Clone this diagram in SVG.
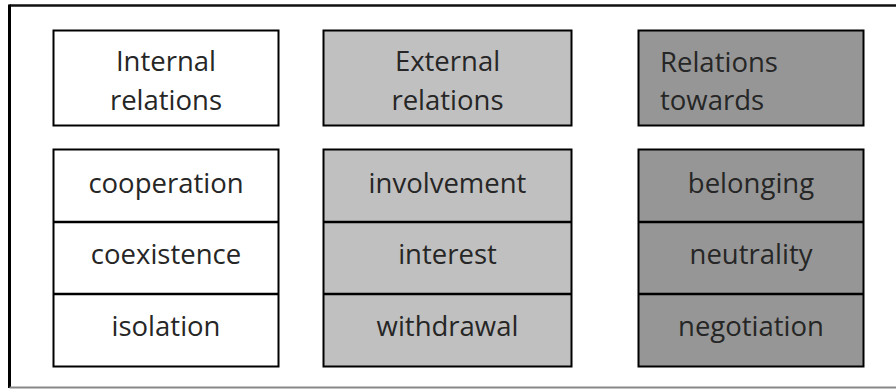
<svg xmlns="http://www.w3.org/2000/svg" width="896" height="389" viewBox="0 0 896 389">
<style>
.box{stroke:#000;stroke-width:2}
.w{fill:#fff}
.g1{fill:#c0c0c0}
.g2{fill:#969696}
.div{stroke:#000;stroke-width:2.5}
text{font-family:"Open Sans","Noto Sans",sans-serif;font-size:27.5px;fill:#262626}
.c{text-anchor:middle}
</style>
<rect x="0" y="0" width="896" height="389" fill="#fff"/>
<g id="frame">
<line x1="9.5" y1="5.5" x2="896" y2="5.5" stroke="#111" stroke-width="2.5"/>
<line x1="9.5" y1="4.5" x2="9.5" y2="388" stroke="#000" stroke-width="3"/>
<line x1="9.5" y1="387.5" x2="896" y2="387.5" stroke="#888" stroke-width="2"/>
</g>
<g id="internal-header">
<rect class="box w" x="53.5" y="30.5" width="225" height="95"/>
<text class="c" x="166" y="71">Internal</text>
<text class="c" x="166" y="110">relations</text>
</g>
<g id="external-header">
<rect class="box g1" x="323.5" y="30.5" width="248" height="95"/>
<text class="c" x="447.5" y="71">External</text>
<text class="c" x="447.5" y="110">relations</text>
</g>
<g id="towards-header">
<rect class="box g2" x="638.5" y="30.5" width="225" height="95"/>
<text x="660" y="72">Relations</text>
<text x="660" y="110">towards</text>
</g>
<g id="internal-list">
<rect class="box w" x="53.5" y="149.5" width="225" height="217"/>
<line class="div" x1="53.5" y1="222" x2="278.5" y2="222"/>
<line class="div" x1="53.5" y1="294" x2="278.5" y2="294"/>
<text class="c" x="166" y="193">cooperation</text>
<text class="c" x="166" y="264">coexistence</text>
<text class="c" x="166" y="336">isolation</text>
</g>
<g id="external-list">
<rect class="box g1" x="323.5" y="149.5" width="248" height="217"/>
<line class="div" x1="323.5" y1="222" x2="571.5" y2="222"/>
<line class="div" x1="323.5" y1="294" x2="571.5" y2="294"/>
<text class="c" x="447.5" y="193">involvement</text>
<text class="c" x="447.5" y="264">interest</text>
<text class="c" x="447.5" y="336">withdrawal</text>
</g>
<g id="towards-list">
<rect class="box g2" x="638.5" y="149.5" width="225" height="217"/>
<line class="div" x1="638.5" y1="222" x2="863.5" y2="222"/>
<line class="div" x1="638.5" y1="294" x2="863.5" y2="294"/>
<text class="c" x="751" y="193">belonging</text>
<text class="c" x="751" y="264">neutrality</text>
<text class="c" x="751" y="336">negotiation</text>
</g>
<g id="connectors"></g>
</svg>
